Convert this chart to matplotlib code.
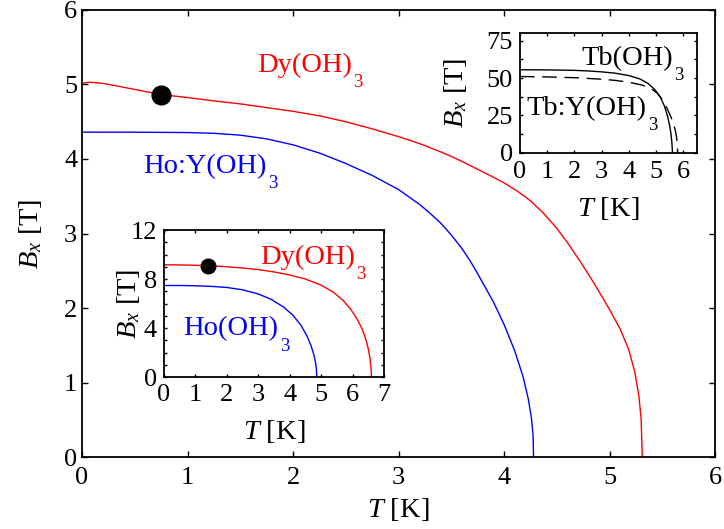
import matplotlib
matplotlib.use('Agg')
import matplotlib.pyplot as plt
import numpy as np
from matplotlib.ticker import MultipleLocator

# Main panel: critical field vs temperature
T_dy = [0, 0.08, 0.2, 0.35, 0.55, 0.75, 1.0, 1.25, 1.5, 1.75, 2.0, 2.25, 2.5, 2.75,
        3.0, 3.125, 3.25, 3.375, 3.5, 3.625, 3.75, 3.875, 4.0, 4.125, 4.25, 4.375, 4.5,
        4.6, 4.72, 4.85, 5.0, 5.1, 5.18, 5.24, 5.28, 5.3, 5.31]
B_dy = [5.02, 5.03, 5.015, 4.975, 4.92, 4.865, 4.825, 4.78, 4.74, 4.69, 4.64, 4.58, 4.50, 4.405,
        4.30, 4.243, 4.18, 4.11, 4.035, 3.952, 3.862, 3.773, 3.68, 3.57, 3.44, 3.27, 3.07,
        2.88, 2.63, 2.34, 1.98, 1.72, 1.45, 1.14, 0.80, 0.50, 0]
T_hoy = [0, 0.5, 1.0, 1.25, 1.5, 1.75, 2.0, 2.25, 2.5, 2.75, 3.0, 3.2, 3.3, 3.4, 3.5, 3.6,
         3.68, 3.75, 3.9, 4.0, 4.1, 4.18, 4.23, 4.26, 4.275, 4.28]
B_hoy = [4.36, 4.36, 4.355, 4.345, 4.32, 4.27, 4.19, 4.08, 3.94, 3.78, 3.59, 3.39, 3.27, 3.14, 2.98,
         2.80, 2.63, 2.46, 2.08, 1.78, 1.43, 1.08, 0.78, 0.52, 0.30, 0]
dot_main = (0.75, 4.86)

# Lower inset: Dy(OH)3 and Ho(OH)3
T_dy2 = [0, 0.5, 1.0, 1.5, 2.0, 2.5, 3.0, 3.5, 4.0, 4.5, 5.0, 5.4, 5.7, 5.95, 6.15, 6.3,
         6.42, 6.5, 6.55, 6.58, 6.595, 6.6]
B_dy2 = [9.16, 9.15, 9.12, 9.07, 9.0, 8.9, 8.77, 8.58, 8.33, 8.0, 7.5, 6.9, 6.25, 5.5, 4.7, 3.95,
         3.1, 2.3, 1.6, 0.9, 0.4, 0]
T_ho2 = [0, 0.5, 1.0, 1.5, 2.0, 2.5, 3.0, 3.4, 3.8, 4.1, 4.35, 4.55, 4.68, 4.77, 4.82, 4.85, 4.86]
B_ho2 = [7.47, 7.47, 7.45, 7.40, 7.31, 7.12, 6.78, 6.35, 5.72, 5.05, 4.25, 3.35, 2.55, 1.8, 1.2, 0.6, 0]
dot_inset = (1.4, 9.05)

# Upper inset: Tb(OH)3 (solid) and Tb:Y(OH)3 (dashed)
T_tb = [0, 1.0, 2.0, 2.5, 3.0, 3.5, 4.0, 4.4, 4.7, 4.95, 5.15, 5.3, 5.42, 5.5, 5.55, 5.58, 5.6]
B_tb = [55.5, 55.4, 55.1, 54.7, 54.1, 53.2, 51.6, 49.4, 46.4, 42.3, 37.3, 31.5, 24.5, 18.0, 12.0,
        6.5, 0]
T_tby = [0, 1.0, 2.0, 3.0, 3.5, 4.0, 4.5, 4.8, 5.05, 5.25, 5.4, 5.52, 5.62, 5.7, 5.75, 5.78, 5.79]
B_tby = [51.0, 50.7, 50.2, 49.2, 48.4, 47.2, 45.2, 43.0, 39.8, 35.0, 29.8, 25.0, 20.5, 15.5, 10.5,
         5.0, 0]

plt.rcParams['font.family'] = 'Liberation Serif'
plt.rcParams['mathtext.fontset'] = 'custom'
plt.rcParams['mathtext.rm'] = 'Liberation Serif'
plt.rcParams['mathtext.it'] = 'Liberation Serif:italic'
plt.rcParams['axes.linewidth'] = 1.3

red = '#ff0000'
blue = '#0000ff'
tick_fs = 19
lab_fs = 20.5
sub_fs = 13.5


def chem(ax, x, y, base, color):
    t = ax.text(x, y, base, color=color, fontsize=lab_fs, ha='left', va='baseline')
    ax.annotate('3', xy=(1, 0), xycoords=t, xytext=(1.0, -6.5),
                textcoords='offset points', color=color, fontsize=sub_fs,
                ha='left', va='baseline')


def style(ax, ticklen, xpad, ypad):
    for axis, pad in ((ax.xaxis, xpad), (ax.yaxis, ypad)):
        axis.set_tick_params(which='major', length=ticklen, width=1, direction='in',
                             pad=pad, labelsize=tick_fs)
        axis.set_tick_params(which='minor', length=ticklen, width=1, direction='in')
    ax.tick_params(which='both', top=True, right=True)


fig = plt.figure(figsize=(7.24, 5.29), dpi=100)

# main axes
ax = fig.add_axes([0.1133, 0.1361, 0.8743, 0.845])
ax.plot(T_dy, B_dy, color=red, lw=1.0)
ax.plot(T_hoy, B_hoy, color=blue, lw=1.0)
ax.plot(*dot_main, 'o', color='k', ms=13.5)
ax.set_xlim(0, 6)
ax.set_ylim(0, 6)
ax.xaxis.set_major_locator(MultipleLocator(1))
ax.yaxis.set_major_locator(MultipleLocator(1))
style(ax, 4, 7, 3.5)
ax.set_xlabel('$T$ [K]', fontsize=lab_fs)
ax.set_ylabel('$B_x$ [T]', fontsize=lab_fs)
ax.xaxis.set_label_coords(0.5, -0.088)
ax.yaxis.set_label_coords(-0.06, 0.5)
chem(ax, 1.66, 5.17, 'Dy(OH)', red)
chem(ax, 0.58, 3.81, 'Ho:Y(OH)', blue)

# lower-left inset
ax1 = fig.add_axes([0.2265, 0.2873, 0.3039, 0.2779])
ax1.plot(T_dy2, B_dy2, color=red, lw=1.0)
ax1.plot(T_ho2, B_ho2, color=blue, lw=1.0)
ax1.plot(*dot_inset, 'o', color='k', ms=10.5)
ax1.set_xlim(0, 7)
ax1.set_ylim(0, 12)
ax1.xaxis.set_major_locator(MultipleLocator(1))
ax1.yaxis.set_major_locator(MultipleLocator(4))
ax1.yaxis.set_minor_locator(MultipleLocator(1))
style(ax1, 2.5, 5, 5)
ax1.set_xlabel('$T$ [K]', fontsize=lab_fs)
ax1.set_ylabel('$B_x$ [T]', fontsize=lab_fs)
ax1.xaxis.set_label_coords(0.5, -0.28)
ax1.yaxis.set_label_coords(-0.1, 0.5)
chem(ax1, 3.05, 9.24, 'Dy(OH)', red)
chem(ax1, 0.62, 3.39, 'Ho(OH)', blue)

# upper-right inset
ax2 = fig.add_axes([0.7182, 0.7108, 0.2445, 0.2268])
ax2.plot(T_tb, B_tb, color='k', lw=1.0)
ax2.plot(T_tby, B_tby, color='k', lw=1.0, dashes=(10.5, 5.5))
ax2.set_xlim(0, 6.5)
ax2.set_ylim(0, 80)
ax2.xaxis.set_major_locator(MultipleLocator(1))
ax2.yaxis.set_major_locator(MultipleLocator(25))
ax2.yaxis.set_minor_locator(MultipleLocator(12.5))
style(ax2, 2.5, 6, 5)
ax2.set_xlabel('$T$ [K]', fontsize=lab_fs)
ax2.set_ylabel('$B_x$ [T]', fontsize=lab_fs)
ax2.xaxis.set_label_coords(0.5, -0.35)
ax2.yaxis.set_label_coords(-0.29, 0.5)
chem(ax2, 2.24, 58.8, 'Tb(OH)', 'k')
chem(ax2, 0.25, 25.4, 'Tb:Y(OH)', 'k')

fig.savefig('out.png', dpi=100)
